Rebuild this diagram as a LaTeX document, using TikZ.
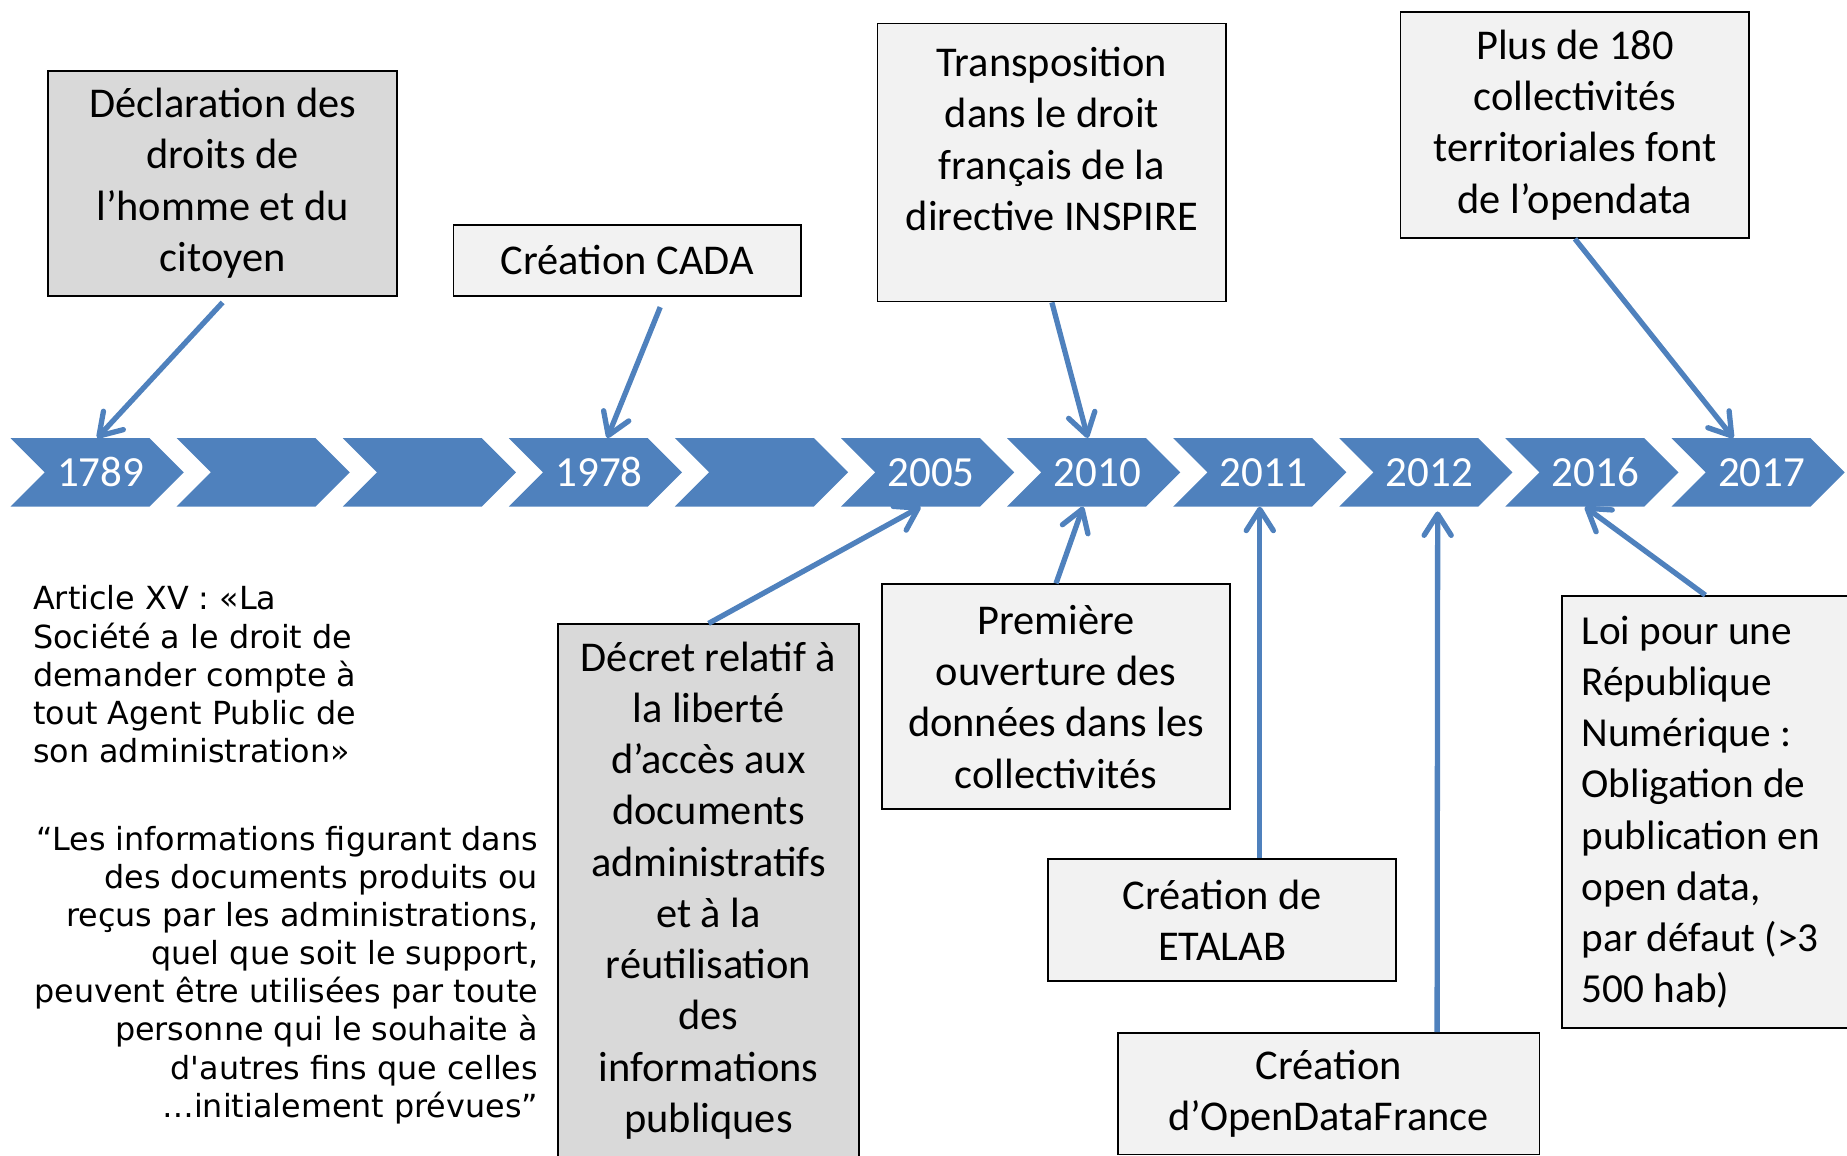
\documentclass[tikz,border=0pt]{standalone}
\usepackage{fontspec}
\setmainfont{Carlito}
\newfontfamily\citefont{DejaVu Sans}
\usepackage{xcolor}
\usetikzlibrary{shapes.symbols,arrows.meta,positioning}

\definecolor{tlblue}{HTML}{4F81BD}
\definecolor{boxlight}{HTML}{F2F2F2}
\definecolor{boxdark}{HTML}{D9D9D9}

\tikzset{
  chev/.style={signal, signal from=west, signal to=east, fill=tlblue,
    minimum width=147pt, minimum height=58pt, inner sep=0pt,
    text=white, font=\fontsize{36.5}{40}\selectfont,
    execute at begin node=\hspace*{6pt}},
  evbox/.style={draw=black, line width=1.5pt, fill=boxlight, align=center,
    inner sep=0pt, font=\fontsize{36}{43.5}\selectfont},
  evlink/.style={draw=tlblue, line width=4.5pt,
    -{Straight Barb[length=18pt,width=23pt,round]}},
  citetext/.style={inner sep=0pt, font=\citefont\fontsize{27}{32.4}\selectfont}
}

\begin{document}
\begin{tikzpicture}[x=1pt,y=-1pt]
    \useasboundingbox (0,0) rectangle (1568,981);

    % Frise chronologique
    \foreach \i/\an in {0/1789, 1/{}, 2/{}, 3/1978, 4/{}, 5/2005, 6/2010, 7/2011, 8/2012, 9/2016, 10/2017} {
      \node[chev] (c\i) at (82.5+141*\i,401) {\an};
    }

    % Evenements au-dessus
    \node[evbox, fill=boxdark, minimum width=296pt, minimum height=191pt] (decl) at (189,155.5)
      {Déclaration des\\droits de\\l’homme et du\\citoyen};
    \node[evbox, minimum width=295pt, minimum height=60pt] (cada) at (532.5,221) {Création CADA};
    \node[evbox, minimum width=296pt, minimum height=236pt] (trans) at (893,138) {};
    \node[align=center, inner sep=0pt, font=\fontsize{36}{43.5}\selectfont] (transtxt) at (893,118)
      {Transposition\\dans le droit\\français de la\\directive INSPIRE};
    \node[evbox, minimum width=296pt, minimum height=192pt] (plus) at (1337,106)
      {Plus de 180\\collectivités\\territoriales font\\de l’opendata};

    % Evenements au-dessous
    \node[evbox, fill=boxdark, minimum width=255pt, minimum height=452pt] (decret) at (601.5,756)
      {Décret relatif à\\la liberté\\d’accès aux\\documents\\administratifs\\et à la\\réutilisation\\des\\informations\\publiques};
    \node[evbox, minimum width=295pt, minimum height=191pt] (prem) at (896.5,591.5)
      {Première\\ouverture des\\données dans les\\collectivités};
    \node[evbox, minimum width=295pt, minimum height=104pt] (etalab) at (1037.5,781) {Création de\\ETALAB};
    \node[evbox, minimum width=358pt, minimum height=103pt] (odf) at (1128,928.5) {Création\\d’OpenDataFrance};
    \node[evbox, anchor=west, align=flush left, text width=236pt, inner xsep=17pt, minimum height=367pt,
      font=\fontsize{35}{43.5}\selectfont] (loi) at (1325,689.5)
      {Loi pour une\\République\\Numérique :\\Obligation de\\publication en\\open data,\\par défaut (>3\\500 hab)};

    % Citations
    \node[citetext, anchor=north west, align=left] (art) at (28,497)
      {Article XV : «La\\Société a le droit de\\demander compte à\\tout Agent Public de\\son administration»};
    \node[citetext, anchor=north east, align=right] (cite) at (457,701)
      {“Les informations figurant dans\\des documents produits ou\\reçus par les administrations,\\quel que soit le support,\\peuvent être utilisées par toute\\personne qui le souhaite à\\d\textquotesingle autres fins que celles\\…initialement prévues”};

    % Fleches
    \draw[evlink] ([yshift=-5pt]decl.south) -- (c0.north);
    \draw[evlink] ([xshift=28pt,yshift=-9pt]cada.south) -- ([xshift=10pt]c3.north);
    \draw[evlink] (trans.south) -- ([xshift=-5pt]c6.north);
    \draw[evlink] (plus.south) -- ([xshift=-21pt]c10.north);
    \draw[evlink] (decret.north) -- ([xshift=-6pt]c5.south);
    \draw[evlink] (prem.north) -- ([xshift=-9pt]c6.south);
    \draw[evlink] (etalab.north -| c7.south) -- (c7.south);
    \draw[evlink] ([xshift=92pt]odf.north) -- ([xshift=10pt,yshift=-4pt]c8.south);
    \draw[evlink] ([xshift=-13pt]loi.north) -- ([xshift=-6pt]c9.south);

\end{tikzpicture}
\end{document}
